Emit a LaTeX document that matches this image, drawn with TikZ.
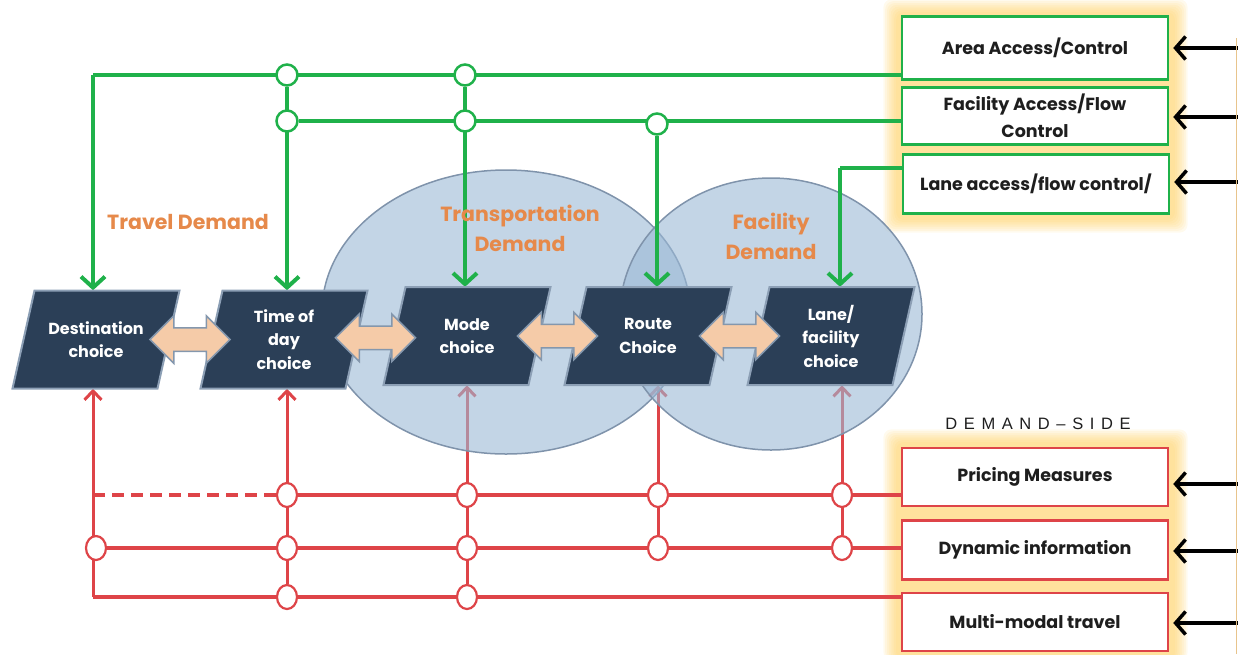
\documentclass[tikz,border=0pt]{standalone}
\usepackage{fontspec}
\setmainfont{Poppins}
\newfontfamily\spacedfont[LetterSpace=40]{Liberation Sans}
\usetikzlibrary{arrows.meta,shapes.arrows,shapes.geometric,calc}
\definecolor{navy}{HTML}{2B3F57}
\definecolor{navyedge}{HTML}{8C9FB5}
\definecolor{gcol}{HTML}{1FB14A}
\definecolor{rcol}{HTML}{DE4448}
\definecolor{peach}{HTML}{F5CBA8}
\definecolor{peachedge}{HTML}{8497AD}
\definecolor{otxt}{HTML}{E6894A}
\definecolor{ellc}{HTML}{9BB9D5}
\definecolor{elledge}{HTML}{7F93AB}
\definecolor{glowc}{HTML}{FFCF5E}
\definecolor{txtc}{HTML}{1E1E1E}
\definecolor{tanc}{HTML}{E8C48C}
\pgfdeclarelayer{glowlayer}
\pgfdeclarelayer{redlayer}
\pgfdeclarelayer{elllayer}
\pgfdeclarelayer{greenlayer}
\pgfsetlayers{glowlayer,redlayer,elllayer,greenlayer,main}
\tikzset{
  gl/.style={draw=gcol, line width=4pt},
  garrow/.style={gl, -{Straight Barb[length=11pt,width=24pt]}},
  rl/.style={draw=rcol, line width=4.5pt},
  rv/.style={draw=rcol, line width=3pt, -{Straight Barb[length=9pt,width=17pt]}},
  gcirc/.style={circle, draw=gcol, fill=white, line width=2.5pt, minimum size=21, inner sep=0pt},
  rcirc/.style={ellipse, draw=rcol, fill=white, line width=2.2pt, minimum width=20, minimum height=24, inner sep=0pt},
  pgshape/.style={fill=navy, draw=navyedge, line width=2pt, line join=miter},
  pgtext/.style={minimum width=120, minimum height=98, inner sep=0pt, align=center, text=white,
     font=\fontsize{16}{23.5}\selectfont\bfseries},
  dbl/.style={double arrow, fill=peach, draw=peachedge, line width=1.5pt, minimum height=80,
     inner xsep=0pt, inner ysep=11pt, double arrow head extend=12pt},
  rboxg/.style={draw=gcol, line width=2.5pt, fill=white, minimum width=266, align=center,
     text=txtc, font=\fontsize{17.5}{27}\selectfont\bfseries},
  rboxr/.style={rboxg, draw=rcol},
  barrow/.style={draw=black, line width=3.5pt, -{Straight Barb[length=10pt,width=23pt]}, shorten >=4pt},
  olabel/.style={text=otxt, align=center, font=\fontsize{20.5}{30}\selectfont\bfseries},
  ell/.style={fill=ellc, fill opacity=0.6, draw=elledge, line width=1.5pt},
}
\newcommand\mypgram[4]{%
  \draw[pgshape] ({#2-61.5},{#3-49}) -- ({#2+83.5},{#3-49}) -- ({#2+61.5},{#3+49}) -- ({#2-83.5},{#3+49}) -- cycle;
  \node[pgtext] (#1) at (#2,#3) {#4};}
\begin{document}
\begin{tikzpicture}[x=1pt,y=-1pt]
\useasboundingbox (0,0) rectangle (1238,654);

% right boxes
\node[rboxg, minimum height=63] (area) at (1035,48) {Area Access/Control};
\node[rboxg, minimum height=57] (facil) at (1035,116) {Facility Access/Flow\\Control};
\node[rboxg, minimum height=59] (lanebx) at (1036,184) {Lane access/flow control/};
\node[rboxr, minimum height=58] (pricing) at (1035,477) {Pricing Measures};
\node[rboxr, minimum height=59] (dyninfo) at (1035,550) {Dynamic information};
\node[rboxr, minimum height=58] (multi) at (1035,622) {Multi-modal travel};

\node[text=txtc, font=\fontsize{16.5}{18}\selectfont\spacedfont] (dside) at (1038,424) {DEMAND\textendash SIDE};

% black arrows
\coordinate (e1) at (1238,48);
\coordinate (e2) at (1238,117);
\coordinate (e3) at (1238,182);
\coordinate (e4) at (1238,484);
\coordinate (e5) at (1238,551);
\coordinate (e6) at (1238,623);
\draw[barrow] (e1) -- (area.east |- e1);
\draw[barrow] (e2) -- (facil.east |- e2);
\draw[barrow] (e3) -- (lanebx.east |- e3);
\draw[barrow] (e4) -- (pricing.east |- e4);
\draw[barrow] (e5) -- (dyninfo.east |- e5);
\draw[barrow] (e6) -- (multi.east |- e6);
\draw[tanc, line width=1.2pt] (1236.5,38) -- (1236.5,654);

% orange labels
\node[olabel] (tdem) at (188,222) {Travel Demand};
\node[olabel] (trdem) at (520,228) {Transportation\\Demand};
\node[olabel] (fdem) at (771,236) {Facility\\Demand};

% choice boxes
\mypgram{dest}{96}{339.5}{Destination\\choice}
\mypgram{tod}{284}{339.5}{Time of\\day\\choice}
\mypgram{mode}{467}{336}{Mode\\choice}
\mypgram{route}{648}{336}{Route\\Choice}
\mypgram{lanech}{831}{336}{Lane/\\facility\\choice}

\node[dbl] (a1) at ($(dest)!0.5!(tod)$) {};
\node[dbl] (a2) at ($(tod)!0.5!(mode)$) {};
\node[dbl] (a3) at ($(mode)!0.5!(route)$) {};
\node[dbl] (a4) at ($(route)!0.5!(lanech)$) {};

% circles
\node[gcirc] (g11) at (287,75) {};
\node[gcirc] (g12) at (465,75) {};
\node[gcirc] (g21) at (287,121) {};
\node[gcirc] (g22) at (465,121) {};
\node[gcirc] (g23) at (657,124) {};
\coordinate (gc0) at (93,75);
\coordinate (gc3) at (840,168);

\node[rcirc] (r11) at (287,495) {};
\node[rcirc] (r12) at (467,495) {};
\node[rcirc] (r13) at (658,495) {};
\node[rcirc] (r14) at (842,495) {};
\node[rcirc] (r21) at (96,548) {};
\node[rcirc] (r22) at (287,548) {};
\node[rcirc] (r23) at (467,548) {};
\node[rcirc] (r24) at (658,548) {};
\node[rcirc] (r25) at (842,548) {};
\node[rcirc] (r31) at (287,597) {};
\node[rcirc] (r32) at (467,597) {};
\coordinate (rc0) at (93,597);

% glow
\begin{pgfonlayer}{glowlayer}
\foreach \i in {0,...,7} {
  \fill[glowc, opacity=0.11, rounded corners=8pt] ({896-1.8*\i},{12-1.8*\i}) rectangle ({1175+1.8*\i},{220+1.8*\i});
  \fill[glowc, opacity=0.11, rounded corners=8pt] ({896-1.8*\i},{442-1.8*\i}) rectangle ({1175+1.8*\i},{660});
}
\end{pgfonlayer}

% red lines
\begin{pgfonlayer}{redlayer}
\draw[rl, dash pattern=on 12pt off 7pt] (rc0 |- r11) -- (r11);
\draw[rl] (r11) -- (pricing.west |- r11);
\draw[rl] (r21) -- (dyninfo.west |- r21);
\draw[rl] (rc0) -- (multi.west |- rc0);
\draw[rv] (rc0) -- (dest.south -| rc0);
\draw[rv] (r31) -- (tod.south -| r31);
\draw[rv] (r32) -- (mode.south -| r32);
\draw[rv] (r24) -- (route.south -| r24);
\draw[rv] (r25) -- (lanech.south -| r25);
\end{pgfonlayer}

% ellipses
\begin{pgfonlayer}{elllayer}
\draw[ell] (506,312) ellipse [x radius=184, y radius=142];
\draw[ell] (771,314) ellipse [x radius=151, y radius=136];
\end{pgfonlayer}

% green lines
\begin{pgfonlayer}{greenlayer}
\draw[gl] (area.west |- gc0) -- (gc0);
\draw[gl] (facil.west |- g21) -- (g21);
\draw[gl] (lanebx.west |- gc3) -- (gc3);
\draw[garrow] (gc0) -- (dest.north -| gc0);
\draw[garrow] (g11) -- (tod.north -| g11);
\draw[garrow] (g12) -- (mode.north -| g12);
\draw[garrow] (g23) -- (route.north -| g23);
\draw[garrow] (gc3) -- (lanech.north -| gc3);
\end{pgfonlayer}
\end{tikzpicture}
\end{document}
